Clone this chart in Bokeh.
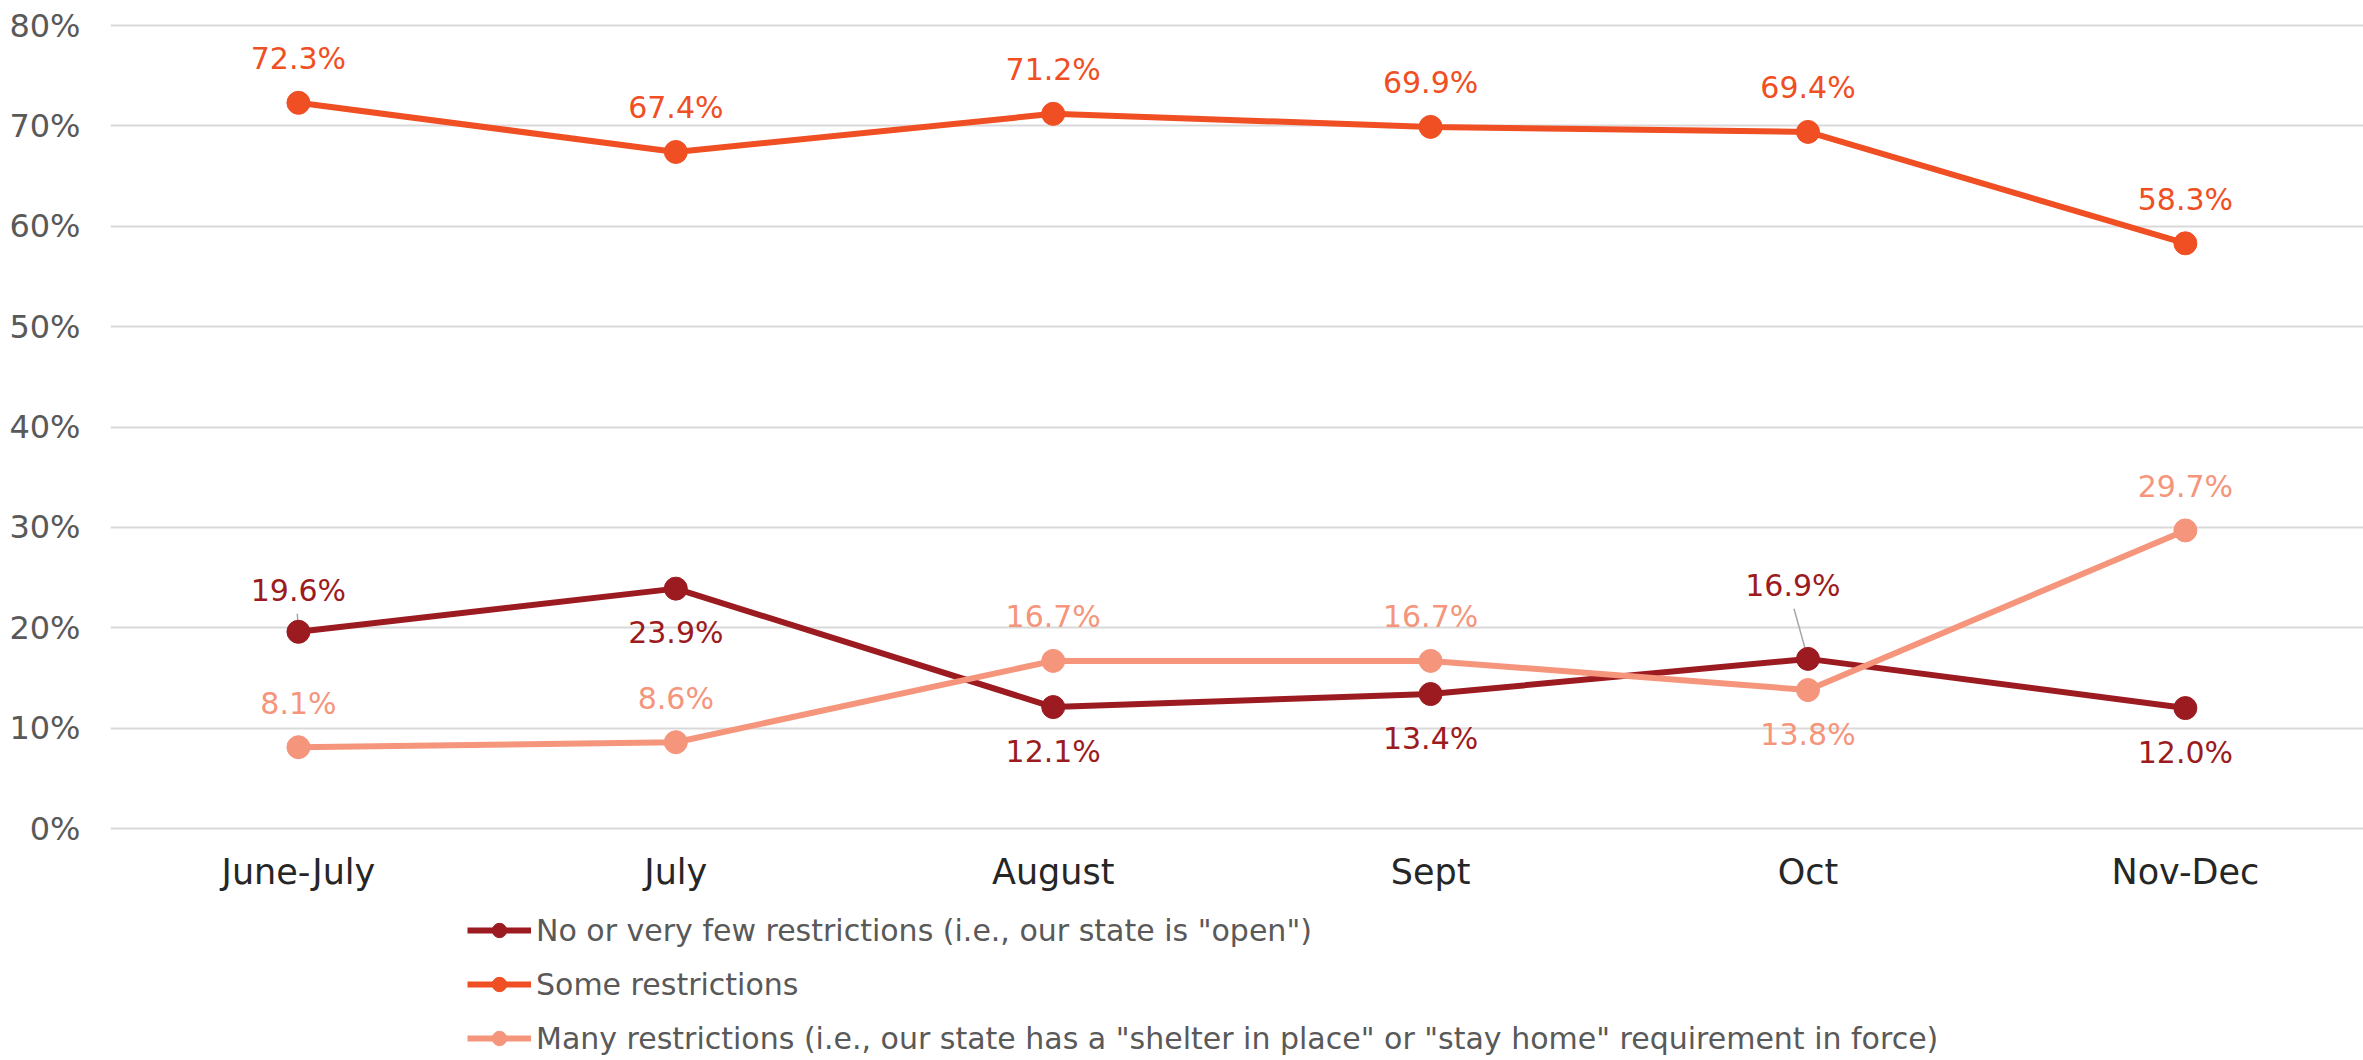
from bokeh.plotting import figure
from bokeh.models import Range1d, FixedTicker, Legend, LegendItem, ColumnDataSource
from bokeh.core.properties import value
from bokeh.embed import file_html
from bokeh.resources import INLINE

# ---------------- data ----------------
categories = ["June-July", "July", "August", "Sept", "Oct", "Nov-Dec"]
no_few = [19.6, 23.9, 12.1, 13.4, 16.9, 12.0]
some = [72.3, 67.4, 71.2, 69.9, 69.4, 58.3]
many = [8.1, 8.6, 16.7, 16.7, 13.8, 29.7]
series_names = [
    'No or very few restrictions (i.e., our state is "open")',
    "Some restrictions",
    'Many restrictions (i.e., our state has a "shelter in place" or "stay home" requirement in force)',
]
y_ticks = [0, 10, 20, 30, 40, 50, 60, 70, 80]

# label side: 1 = above the point, -1 = below
no_few_side = [1, -1, -1, -1, 1, -1]
some_side = [1, 1, 1, 1, 1, 1]
many_side = [1, 1, 1, 1, -1, 1]

# ---------------- style ----------------
colors = ["#9C1B20", "#F04E23", "#F5957C"]
FONT = "DejaVu Sans"
LABEL_OFF = 4.4      # data units (~44 px)
CAT_LABEL_Y = -4.3   # data units below the 0% line

W, H = 2363, 1060
p = figure(width=W, height=H, output_backend="svg", toolbar_location=None,
           x_axis_location=None,
           x_range=Range1d(-0.498, 5.472), y_range=Range1d(-23.11, 80.2),
           min_border_left=110, min_border_right=0, min_border_top=23, min_border_bottom=0)
p.outline_line_color = None
p.background_fill_color = "white"
p.border_fill_color = "white"

# grid
p.xgrid.grid_line_color = None
p.ygrid.grid_line_color = "#D9D9D9"
p.ygrid.grid_line_width = 2
p.ygrid.ticker = FixedTicker(ticks=y_ticks)

# y axis
p.yaxis.ticker = FixedTicker(ticks=y_ticks)
p.yaxis.major_label_overrides = {t: f"{t}%" for t in y_ticks}
p.yaxis.axis_line_color = None
p.yaxis.major_tick_line_color = None
p.yaxis.minor_tick_line_color = None
p.yaxis.major_tick_out = 0
p.yaxis.major_tick_in = 0
p.yaxis.major_label_standoff = 30
p.yaxis.major_label_text_font = FONT
p.yaxis.major_label_text_font_size = "32px"
p.yaxis.major_label_text_color = "#595959"

xs = list(range(len(categories)))

# category labels under the 0% line
p.text(x=xs, y=[CAT_LABEL_Y] * len(xs), text=categories, text_color="#262626",
       text_font=value(FONT), text_font_size="35px",
       text_align="center", text_baseline="middle")

all_series = [no_few, some, many]
all_sides = [no_few_side, some_side, many_side]

# leader lines (drawn beneath markers)
leader = ColumnDataSource(dict(
    x0=[xs[0] - 0.003, xs[4] - 0.037],
    y0=[no_few[0] + 1.8, no_few[4] + 5.0],
    x1=[xs[0], xs[4]],
    y1=[no_few[0], no_few[4]],
))
p.segment("x0", "y0", "x1", "y1", source=leader, line_color="#A6A6A6", line_width=1.5)

items = []
for vals, col, name in zip(all_series, colors, series_names):
    r_line = p.line(xs, vals, line_color=col, line_width=6)
    r_pt = p.scatter(xs, vals, size=23, fill_color=col, line_color=col)
    items.append(LegendItem(label=name, renderers=[r_line, r_pt]))

# data labels
for si, (vals, side, col) in enumerate(zip(all_series, all_sides, colors)):
    lx = list(xs)
    ly = [v + s * LABEL_OFF for v, s in zip(vals, side)]
    if si == 0:
        lx[4] = xs[4] - 0.04
        ly[4] = vals[4] + 7.3
        ly[0] = vals[0] + 4.1
    p.text(x=lx, y=ly, text=[f"{v:.1f}%" for v in vals],
           text_color=col, text_font=value(FONT), text_font_size="30px",
           text_align="center", text_baseline="middle")

legend = Legend(items=items, location=(357, 4), orientation="vertical",
                label_text_font=FONT, label_text_font_size="30px",
                label_text_color="#595959", glyph_width=64, glyph_height=36,
                label_height=36, label_standoff=5, spacing=18, padding=0, margin=0,
                border_line_color=None, background_fill_alpha=0)
p.add_layout(legend, "center")

html = file_html(p, INLINE)
open("out.html", "w").write(html)
